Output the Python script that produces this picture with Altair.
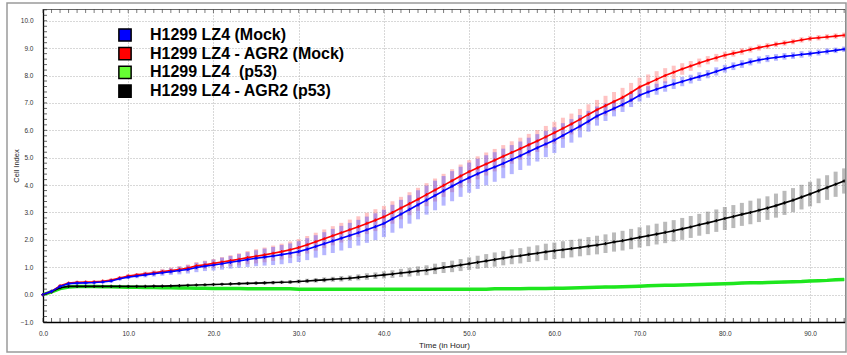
import altair as alt
import pandas as pd
import numpy as np

# ---- data: xCELLigence cell index, read hourly ----
hours = list(range(95))

series_names = [
    "H1299 LZ4 (Mock)",
    "H1299 LZ4 - AGR2 (Mock)",
    "H1299 LZ4 \u00a0(p53)",
    "H1299 LZ4 - AGR2 (p53)",
]

mock_mean = [
    0.00, 0.12, 0.30, 0.40, 0.42, 0.43, 0.44, 0.46, 0.50, 0.58,
    0.64, 0.68, 0.72, 0.76, 0.80, 0.84, 0.88, 0.92, 0.99, 1.04,
    1.08, 1.13, 1.18, 1.23, 1.28, 1.33, 1.37, 1.41, 1.46, 1.51,
    1.57, 1.66, 1.76, 1.86, 1.96, 2.06, 2.16, 2.26, 2.37, 2.48,
    2.60, 2.77, 2.94, 3.11, 3.28, 3.45, 3.62, 3.79, 3.96, 4.12,
    4.27, 4.41, 4.54, 4.66, 4.79, 4.93, 5.07, 5.22, 5.36, 5.50,
    5.64, 5.81, 5.98, 6.15, 6.33, 6.52, 6.66, 6.80, 6.94, 7.10,
    7.28, 7.40, 7.50, 7.60, 7.69, 7.78, 7.87, 7.96, 8.05, 8.15,
    8.25, 8.34, 8.42, 8.50, 8.57, 8.62, 8.66, 8.70, 8.73, 8.77,
    8.80, 8.84, 8.88, 8.92, 8.96,
]
mock_err = [
    0.02, 0.03, 0.04, 0.04, 0.05, 0.05, 0.05, 0.05, 0.06, 0.06,
    0.07, 0.08, 0.09, 0.10, 0.11, 0.12, 0.14, 0.15, 0.17, 0.18,
    0.20, 0.22, 0.23, 0.25, 0.27, 0.29, 0.31, 0.33, 0.35, 0.36,
    0.38, 0.40, 0.41, 0.42, 0.44, 0.45, 0.46, 0.47, 0.48, 0.49,
    0.50, 0.51, 0.52, 0.52, 0.53, 0.53, 0.54, 0.54, 0.55, 0.55,
    0.55, 0.55, 0.55, 0.54, 0.54, 0.53, 0.52, 0.51, 0.50, 0.48,
    0.47, 0.45, 0.43, 0.41, 0.38, 0.35, 0.32, 0.29, 0.27, 0.25,
    0.23, 0.21, 0.20, 0.19, 0.18, 0.17, 0.16, 0.16, 0.15, 0.15,
    0.14, 0.14, 0.14, 0.13, 0.13, 0.13, 0.12, 0.12, 0.12, 0.12,
    0.11, 0.11, 0.11, 0.10, 0.10,
]

agr2_mock_mean = [
    0.00, 0.12, 0.32, 0.42, 0.45, 0.46, 0.47, 0.49, 0.53, 0.61,
    0.68, 0.72, 0.76, 0.80, 0.84, 0.88, 0.92, 0.97, 1.05, 1.09,
    1.14, 1.19, 1.24, 1.29, 1.35, 1.40, 1.45, 1.51, 1.57, 1.64,
    1.72, 1.82, 1.93, 2.04, 2.15, 2.26, 2.37, 2.48, 2.60, 2.72,
    2.84, 3.00, 3.16, 3.32, 3.48, 3.65, 3.82, 3.99, 4.16, 4.33,
    4.49, 4.63, 4.77, 4.91, 5.05, 5.19, 5.33, 5.47, 5.61, 5.76,
    5.91, 6.07, 6.23, 6.40, 6.58, 6.75, 6.90, 7.05, 7.20, 7.38,
    7.58, 7.72, 7.86, 8.00, 8.12, 8.24, 8.35, 8.46, 8.56, 8.65,
    8.74, 8.81, 8.88, 8.95, 9.02, 9.08, 9.14, 9.19, 9.24, 9.30,
    9.35, 9.38, 9.41, 9.44, 9.47,
]
agr2_mock_err = [
    0.02, 0.03, 0.04, 0.04, 0.05, 0.05, 0.05, 0.05, 0.06, 0.06,
    0.07, 0.07, 0.08, 0.09, 0.10, 0.11, 0.12, 0.13, 0.14, 0.15,
    0.16, 0.18, 0.20, 0.22, 0.24, 0.26, 0.27, 0.28, 0.29, 0.30,
    0.31, 0.32, 0.33, 0.34, 0.35, 0.36, 0.37, 0.38, 0.39, 0.40,
    0.40, 0.41, 0.41, 0.42, 0.42, 0.42, 0.42, 0.42, 0.42, 0.42,
    0.42, 0.42, 0.42, 0.41, 0.41, 0.41, 0.40, 0.40, 0.40, 0.40,
    0.40, 0.39, 0.38, 0.38, 0.37, 0.36, 0.36, 0.35, 0.35, 0.35,
    0.34, 0.32, 0.30, 0.27, 0.24, 0.21, 0.18, 0.16, 0.15, 0.14,
    0.13, 0.12, 0.12, 0.11, 0.11, 0.11, 0.10, 0.10, 0.10, 0.10,
    0.10, 0.10, 0.10, 0.10, 0.10,
]

p53_mean = [
    0.00, 0.10, 0.22, 0.28, 0.30, 0.30, 0.30, 0.29, 0.29, 0.28,
    0.27, 0.27, 0.26, 0.26, 0.25, 0.25, 0.24, 0.24, 0.23, 0.23,
    0.22, 0.22, 0.22, 0.22, 0.21, 0.21, 0.21, 0.21, 0.21, 0.21,
    0.20, 0.20, 0.20, 0.20, 0.20, 0.20, 0.20, 0.20, 0.20, 0.20,
    0.20, 0.20, 0.20, 0.20, 0.20, 0.20, 0.20, 0.20, 0.20, 0.20,
    0.20, 0.20, 0.20, 0.21, 0.21, 0.21, 0.21, 0.22, 0.22, 0.22,
    0.23, 0.23, 0.24, 0.25, 0.26, 0.27, 0.28, 0.28, 0.29, 0.30,
    0.31, 0.32, 0.33, 0.34, 0.34, 0.35, 0.36, 0.37, 0.38, 0.39,
    0.40, 0.41, 0.42, 0.43, 0.43, 0.44, 0.45, 0.46, 0.47, 0.48,
    0.50, 0.51, 0.52, 0.54, 0.55,
]
p53_err = [
    0.02, 0.03, 0.03, 0.04, 0.04, 0.04, 0.04, 0.04, 0.04, 0.04,
    0.04, 0.04, 0.04, 0.04, 0.04, 0.04, 0.04, 0.04, 0.04, 0.04,
    0.04, 0.04, 0.04, 0.04, 0.04, 0.04, 0.04, 0.04, 0.04, 0.04,
    0.04, 0.04, 0.04, 0.04, 0.04, 0.04, 0.04, 0.04, 0.04, 0.04,
    0.04, 0.04, 0.04, 0.04, 0.04, 0.04, 0.04, 0.04, 0.04, 0.04,
    0.04, 0.04, 0.04, 0.04, 0.04, 0.04, 0.04, 0.04, 0.04, 0.04,
    0.04, 0.04, 0.04, 0.04, 0.04, 0.05, 0.05, 0.05, 0.05, 0.05,
    0.05, 0.05, 0.05, 0.05, 0.05, 0.05, 0.05, 0.05, 0.05, 0.05,
    0.05, 0.05, 0.05, 0.05, 0.05, 0.05, 0.05, 0.05, 0.05, 0.05,
    0.05, 0.05, 0.05, 0.05, 0.05,
]

agr2_p53_mean = [
    0.00, 0.10, 0.25, 0.30, 0.30, 0.30, 0.30, 0.30, 0.30, 0.30,
    0.30, 0.30, 0.30, 0.31, 0.31, 0.32, 0.33, 0.34, 0.35, 0.36,
    0.37, 0.38, 0.39, 0.40, 0.41, 0.42, 0.43, 0.44, 0.45, 0.46,
    0.48, 0.50, 0.52, 0.54, 0.56, 0.58, 0.60, 0.63, 0.66, 0.69,
    0.72, 0.75, 0.79, 0.82, 0.86, 0.89, 0.94, 0.99, 1.03, 1.08,
    1.13, 1.18, 1.23, 1.28, 1.33, 1.38, 1.42, 1.47, 1.51, 1.56,
    1.60, 1.64, 1.68, 1.72, 1.77, 1.81, 1.86, 1.92, 1.97, 2.03,
    2.09, 2.15, 2.21, 2.27, 2.33, 2.40, 2.47, 2.55, 2.62, 2.70,
    2.78, 2.85, 2.93, 3.00, 3.08, 3.16, 3.25, 3.35, 3.45, 3.56,
    3.67, 3.79, 3.91, 4.03, 4.15,
]
agr2_p53_err = [
    0.02, 0.02, 0.03, 0.03, 0.03, 0.03, 0.03, 0.03, 0.03, 0.03,
    0.03, 0.03, 0.03, 0.03, 0.03, 0.03, 0.03, 0.04, 0.04, 0.04,
    0.04, 0.04, 0.05, 0.05, 0.05, 0.05, 0.06, 0.06, 0.06, 0.07,
    0.07, 0.08, 0.08, 0.09, 0.09, 0.10, 0.10, 0.11, 0.12, 0.12,
    0.13, 0.14, 0.15, 0.16, 0.17, 0.18, 0.19, 0.20, 0.21, 0.22,
    0.23, 0.24, 0.25, 0.26, 0.26, 0.27, 0.28, 0.28, 0.29, 0.30,
    0.30, 0.31, 0.32, 0.32, 0.33, 0.34, 0.34, 0.35, 0.36, 0.37,
    0.37, 0.38, 0.38, 0.39, 0.39, 0.40, 0.40, 0.40, 0.41, 0.41,
    0.42, 0.42, 0.42, 0.43, 0.43, 0.43, 0.44, 0.44, 0.44, 0.45,
    0.45, 0.45, 0.45, 0.46, 0.46,
]

means = [mock_mean, agr2_mock_mean, p53_mean, agr2_p53_mean]
errs = [mock_err, agr2_mock_err, p53_err, agr2_p53_err]

# ---- styles ----
line_colors = ["#0000ff", "#ff0000", "#1ee61e", "#000000"]
bar_colors = ["#5050ff", "#ff7070", "#55ee55", "#5a5a5a"]
swatch_colors = ["#0000ff", "#ff0000", "#66ff33", "#000000"]
line_widths = [1.6, 1.6, 3.5, 1.6]

W, H = 802, 313
PAD = {"left": 43, "top": 9, "right": 2, "bottom": 33}
X_MAX = 94.1
Y_MIN, Y_MAX = -1.0, 10.43
FONT = "Liberation Sans"

frames = []
for name, m, e in zip(series_names, means, errs):
    m = np.array(m)
    e = np.array(e)
    frames.append(pd.DataFrame({"h": hours, "v": m, "lo": m - e, "hi": m + e, "series": name}))

x_scale = alt.Scale(domain=[0, X_MAX], nice=False, zero=False)
y_scale = alt.Scale(domain=[Y_MIN, Y_MAX], nice=False, zero=False)

x_axis = alt.Axis(
    values=list(range(0, 91, 10)), format=".1f", title="Time (in Hour)",
    grid=True, gridColor="#b0b0b0", gridDash=[1, 2], gridWidth=1,
    ticks=False, domainColor="#000000", domainWidth=1.3,
    labelFont=FONT, labelFontSize=6.5, labelColor="#333333", labelPadding=8,
    labelFlush=False,
    titleFont=FONT, titleFontSize=8, titleFontWeight="normal", titleColor="#222222",
    titlePadding=5,
)
y_axis = alt.Axis(
    values=list(range(-1, 11)), format=".1f", title="Cell Index",
    grid=True, gridColor="#b0b0b0", gridDash=[1, 2], gridWidth=1,
    ticks=False, domainColor="#000000", domainWidth=1.3,
    labelFont=FONT, labelFontSize=6.5, labelColor="#333333", labelPadding=10,
    labelFlush=False,
    titleFont=FONT, titleFontSize=7.5, titleFontWeight="normal", titleColor="#222222",
    titlePadding=0,
)


def X(field="h"):
    return alt.X(f"{field}:Q", scale=x_scale, axis=x_axis)


def Y(field="v"):
    return alt.Y(f"{field}:Q", scale=y_scale, axis=y_axis)


layers = []

# error bars
for i in [1, 0, 3, 2]:
    layers.append(
        alt.Chart(frames[i]).mark_rule(strokeWidth=4, opacity=0.42, color=bar_colors[i])
        .encode(x=X(), y=Y("lo"), y2="hi:Q")
    )

# mean curves with small point markers
for i in [2, 3, 1, 0]:
    layers.append(
        alt.Chart(frames[i]).mark_line(strokeWidth=line_widths[i], color=line_colors[i])
        .encode(x=X(), y=Y())
    )
    if i != 2:
        layers.append(
            alt.Chart(frames[i]).mark_point(shape="cross", size=10, filled=True,
                                            color=line_colors[i], opacity=0.9)
            .encode(x=X(), y=Y())
        )

# inward minor ticks on the frame
xt = pd.DataFrame({"h": np.arange(0, 95, 1)})
yt = pd.DataFrame({"v": np.round(np.arange(-1.0, 10.41, 0.2), 2)})
layers.append(
    alt.Chart(xt).mark_tick(orient="vertical", size=4, thickness=1, color="#222222")
    .encode(x=X(), y=alt.value(H - 2))
)
layers.append(
    alt.Chart(xt).mark_tick(orient="vertical", size=4, thickness=1, color="#444444")
    .encode(x=X(), y=alt.value(2))
)
layers.append(
    alt.Chart(yt).mark_tick(orient="horizontal", size=4, thickness=1, color="#222222")
    .encode(y=Y(), x=alt.value(2))
)

# legend box
LEG_SQ_X = 82
LEG_TXT_X = 107
LEG_Y0 = 26
LEG_STEP = 18.7
for i, name in enumerate(series_names):
    row = pd.DataFrame({"name": [name]})
    yy = LEG_Y0 + i * LEG_STEP
    layers.append(
        alt.Chart(row).mark_square(size=150, filled=True, fill=swatch_colors[i],
                                   stroke="#000000", strokeWidth=1.5, opacity=1)
        .encode(x=alt.value(LEG_SQ_X), y=alt.value(yy))
    )
    layers.append(
        alt.Chart(row).mark_text(align="left", baseline="middle", font=FONT,
                                 fontSize=16, fontWeight="bold", color="#000000")
        .encode(x=alt.value(LEG_TXT_X), y=alt.value(yy), text="name:N")
    )

# outer panel border
border = pd.DataFrame({"k": [0]})
layers.append(
    alt.Chart(border).mark_rect(fillOpacity=0, stroke="#9a9a9a", strokeWidth=1.5)
    .encode(x=alt.value(-36), x2=alt.value(803), y=alt.value(-6), y2=alt.value(343))
)

chart = (
    alt.layer(*layers)
    .properties(width=W, height=H, padding=PAD,
                autosize=alt.AutoSizeParams(type="none"), background="white")
    .configure_view(stroke="#666666", strokeWidth=1)
)

chart.save("out.html", embed_options={"renderer": "svg", "actions": False})
